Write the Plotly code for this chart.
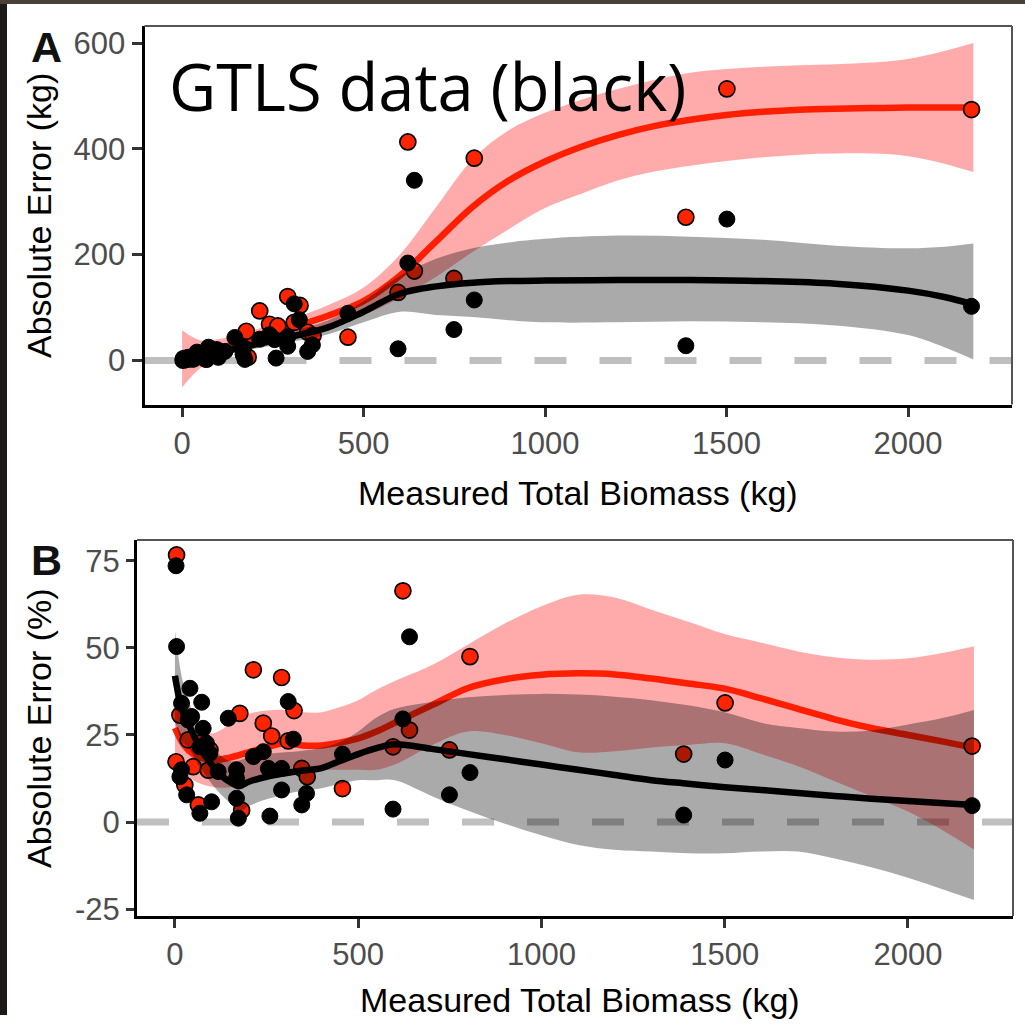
import plotly.graph_objects as go

W, H = 1025, 1026
HE = 1015.0  # effective rendered height used for paper placement

# ---------------- data ----------------
# GTLS (black) points: measured biomass (kg), absolute error (kg), absolute error (%)
gtls_x = [3, 4.5, 13.6, 18, 18, 32, 36, 41, 45.5, 68, 68, 73, 77, 86, 95, 100, 118, 145.5,
          168, 168, 168, 173, 214, 241, 255, 259, 291, 291, 309, 323, 346, 359, 457,
          595, 622, 640, 749, 805, 1388, 1501, 2175]
gtls_err_kg = [2.2, 2.3, 1.8, 6.1, 2.7, 2.5, 10.5, 15.7, 13.8, 14.7, 1.7, 25.1, 20.7, 19.4, 18.7,
               5.8, 17.1, 43.4, 25.2, 21.2, 11.4, 1.9, 40.2, 48.7, 39.3, 4.4, 44.8, 26.8, 106.9,
               76.9, 17.0, 29.4, 89.1, 22.0, 184.1, 340.5, 58.4, 114.3, 27.8, 267.2, 102.2]
gtls_err_pct = [73.6, 50.4, 13.0, 34.1, 15.0, 7.8, 29.3, 38.4, 30.3, 21.6, 2.5, 34.4, 26.9, 22.6,
                19.7, 5.8, 14.5, 29.8, 15.0, 12.6, 6.8, 1.1, 18.8, 20.2, 15.4, 1.7, 15.4, 9.2,
                34.6, 23.8, 4.9, 8.2, 19.5, 3.7, 29.6, 53.2, 7.8, 14.2, 2.0, 17.8, 4.7]

# Other method (red) points
red_x = [3, 4.5, 13.6, 27, 36, 50, 64, 77, 91, 95.5, 177, 182, 214, 241, 264, 291, 309, 325,
         346, 361, 457, 595, 622, 640, 749, 805, 1388, 1501, 2175]
red_err_kg = [0.5, 3.5, 4.2, 2.9, 8.5, 8.0, 3.1, 17.8, 13.6, 19.8, 55.2, 6.2, 93.5, 68.4, 65.2,
              120.8, 72.0, 104.0, 53.3, 46.9, 43.9, 128.5, 413.0, 169.0, 155.0, 382.4, 270.7,
              513.3, 474.2]
red_err_pct = [17.3, 76.7, 30.7, 10.6, 23.6, 15.9, 4.9, 23.1, 14.9, 20.7, 31.2, 3.4, 43.7, 28.4,
               24.7, 41.5, 23.3, 32.0, 15.4, 13.0, 9.6, 21.6, 66.4, 26.4, 20.7, 47.5, 19.5,
               34.2, 21.8]

# Smoothed fits with confidence bands, panel A (kg)
a_red_fx = [0, 50, 100, 200, 300, 400, 500, 600, 700, 800, 900, 1000, 1100, 1200, 1300, 1400,
            1500, 1600, 1700, 1800, 1900, 2000, 2100, 2180]
a_red_fit = [3, 12, 22, 42, 62, 84, 112, 160, 225, 290, 340, 376, 404, 426, 443, 455, 464, 470,
             474, 476, 477, 478, 478, 478]
a_red_hi = [57, 38, 40, 58, 78, 104, 138, 200, 290, 380, 435, 468, 493, 513, 530, 544, 551, 555,
            558, 560, 563, 570, 585, 600]
a_red_lo = [-51, -15, 4, 27, 46, 64, 86, 118, 158, 205, 248, 288, 315, 340, 357, 368, 377, 384,
            389, 391, 391, 386, 372, 356]

a_blk_fx = [0, 50, 100, 200, 300, 400, 500, 600, 700, 800, 900, 1000, 1200, 1400, 1600, 1800,
            2000, 2100, 2180]
a_blk_fit = [3, 8, 15, 30, 45, 62, 92, 126, 140, 147, 150, 151, 152, 152, 150, 145, 132, 120, 106]
a_blk_hi = [15, 15, 22, 38, 55, 75, 112, 160, 192, 212, 223, 230, 236, 234, 228, 217, 212, 215, 221]
a_blk_lo = [-9, 1, 8, 22, 35, 49, 72, 92, 86, 82, 76, 72, 72, 74, 72, 66, 48, 25, 2]

# Smoothed fits with confidence bands, panel B (%)
b_red_fx = [0, 25, 50, 100, 150, 200, 250, 300, 350, 400, 450, 500, 550, 600, 700, 800, 900,
            1000, 1100, 1200, 1300, 1400, 1500, 1600, 1700, 1800, 1900, 2000, 2100, 2180]
b_red_fit = [27, 22, 19.5, 17.8, 18.5, 20, 21.5, 22.6, 22, 22, 22.8, 24, 26, 28.5, 33.5, 38.5,
             41, 42.3, 42.7, 42.4, 41.2, 39.8, 38.3, 35.5, 32.5, 29.5, 27, 25, 23, 21.3]
b_red_hi = [34, 30, 27, 25.4, 28, 31, 32, 32.2, 31.5, 31.5, 33, 35, 38, 40.5, 45, 51, 57, 62,
            65.3, 64.5, 61, 57.5, 54, 51.5, 49, 47.3, 46.6, 47, 48.7, 50.5]
b_red_lo = [18, 14.5, 12, 10.1, 10, 11.5, 14, 14.5, 15, 15, 15, 15, 15, 16.5, 22, 26, 25, 22.6,
            20, 20.3, 21.4, 22.1, 22.6, 19.5, 16, 11.7, 7.4, 3, -2.7, -7.9]

b_blk_fx = [0, 20, 40, 60, 80, 100, 125, 150, 175, 200, 250, 300, 350, 400, 450, 500, 550, 600,
            700, 800, 900, 1000, 1100, 1200, 1300, 1400, 1500, 1600, 1700, 1800, 1900, 2000,
            2100, 2180]
b_blk_fit = [42, 32, 27.5, 23, 19.5, 16.5, 13.5, 11.5, 10.3, 11.5, 13, 14, 14.8, 15.5, 17.5,
             19.5, 21.2, 22.3, 21, 19.5, 18, 16.5, 15, 13.5, 12, 11, 10, 9.2, 8.3, 7.5, 6.7, 6,
             5.4, 4.9]
b_blk_hi = [55, 41, 34, 29, 25, 22, 19, 17.5, 17.7, 18.5, 19.5, 20, 20.5, 21.3, 23, 26, 30, 32.5,
            34.5, 35.8, 36.5, 36.8, 36.6, 36, 35, 33.5, 31.5, 28.5, 27, 26, 26.3, 28, 30, 32.2]
b_blk_lo = [29, 23, 21, 17, 14, 11, 8, 5.5, 2.8, 4.5, 6.5, 8, 9, 9.7, 11, 12, 12, 12, 7.5, 3.2,
            -0.5, -3.8, -6.6, -8, -8.5, -9, -9, -8.5, -8.5, -10.5, -13, -16, -19.5, -22.4]

x_ticks = [0, 500, 1000, 1500, 2000]
a_y_ticks = [0, 200, 400, 600]
b_y_ticks = [-25, 0, 25, 50, 75]
b_y_ticktext = ["-25", "0", "25", "50", "75"]
x_range = [-103.5, 2286.5]

# ---------------- styles ----------------
RED = "#ff2400"
RED_LINE = "#ff1e00"
RED_BAND = "rgba(255,0,0,0.33)"
GREY_BAND = "rgba(0,0,0,0.333)"
FONT = "Liberation Sans, Arial, Helvetica, sans-serif"


def fy(p):
    return 1 - p / HE


def fx(p):
    return p / W


fig = go.Figure()


def add_panel(xa, ya, rfx, rfit, rhi, rlo, bfx, bfit, bhi, blo, rx, ry, bx, by):
    fig.add_trace(go.Scatter(x=x_range, y=[0, 0], mode="lines", xaxis=xa, yaxis=ya,
                             line=dict(color="#bfbfbf", width=7, dash="32px,33px"),
                             hoverinfo="skip", showlegend=False))
    # red layer
    fig.add_trace(go.Scatter(x=rfx, y=rlo, mode="lines", xaxis=xa, yaxis=ya,
                             line=dict(width=0, shape="spline"), hoverinfo="skip", showlegend=False))
    fig.add_trace(go.Scatter(x=rfx, y=rhi, mode="lines", xaxis=xa, yaxis=ya, fill="tonexty",
                             fillcolor=RED_BAND, line=dict(width=0, shape="spline"),
                             hoverinfo="skip", showlegend=False))
    fig.add_trace(go.Scatter(x=rfx, y=rfit, mode="lines", xaxis=xa, yaxis=ya,
                             line=dict(color=RED_LINE, width=6.5, shape="spline"), showlegend=False))
    fig.add_trace(go.Scatter(x=rx, y=ry, mode="markers", xaxis=xa, yaxis=ya,
                             marker=dict(size=16, color=RED, line=dict(color="black", width=1.7)),
                             showlegend=False))
    # black layer
    fig.add_trace(go.Scatter(x=bfx, y=blo, mode="lines", xaxis=xa, yaxis=ya,
                             line=dict(width=0, shape="spline"), hoverinfo="skip", showlegend=False))
    fig.add_trace(go.Scatter(x=bfx, y=bhi, mode="lines", xaxis=xa, yaxis=ya, fill="tonexty",
                             fillcolor=GREY_BAND, line=dict(width=0, shape="spline"),
                             hoverinfo="skip", showlegend=False))
    fig.add_trace(go.Scatter(x=bfx, y=bfit, mode="lines", xaxis=xa, yaxis=ya,
                             line=dict(color="black", width=6.5, shape="spline"), showlegend=False))
    fig.add_trace(go.Scatter(x=bx, y=by, mode="markers", xaxis=xa, yaxis=ya,
                             marker=dict(size=16, color="black", line=dict(color="black", width=1)),
                             showlegend=False))


add_panel("x", "y", a_red_fx, a_red_fit, a_red_hi, a_red_lo, a_blk_fx, a_blk_fit, a_blk_hi,
          a_blk_lo, red_x, red_err_kg, gtls_x, gtls_err_kg)
add_panel("x2", "y2", b_red_fx, b_red_fit, b_red_hi, b_red_lo, b_blk_fx, b_blk_fit, b_blk_hi,
          b_blk_lo, red_x, red_err_pct, gtls_x, gtls_err_pct)

tickfont = dict(family=FONT, size=31, color="#4d4d4d")
common_x = dict(range=x_range, tickvals=x_ticks, ticks="outside", ticklen=9, tickwidth=2.5,
                tickcolor="#333333", showline=True, linecolor="black", linewidth=3,
                showgrid=False, zeroline=False, tickfont=tickfont)
common_y = dict(ticks="outside", tickwidth=2.5, tickcolor="#333333", showline=True,
                linecolor="black", linewidth=3, showgrid=False, zeroline=False, tickfont=tickfont)

fig.update_layout(
    width=W, height=H, margin=dict(l=0, r=0, t=0, b=0),
    paper_bgcolor="white", plot_bgcolor="white", showlegend=False,
    xaxis=dict(domain=[fx(144.5), fx(1012)], anchor="y", **common_x),
    yaxis=dict(domain=[fy(404.5), fy(26)], anchor="x", range=[-83.3, 632.2],
               tickvals=a_y_ticks, ticklen=10, **common_y),
    xaxis2=dict(domain=[fx(137), fx(1013)], anchor="y2", **common_x),
    yaxis2=dict(domain=[fy(916), fy(540)], anchor="x2", range=[-27, 81],
                tickvals=b_y_ticks, ticktext=b_y_ticktext, ticklen=8, **common_y),
)

shapes = []
for xr, yr in (("x", "y"), ("x2", "y2")):
    shapes.append(dict(type="line", xref=xr + " domain", yref=yr + " domain", x0=0, x1=1, y0=1, y1=1,
                       line=dict(color="#555555", width=2)))
    shapes.append(dict(type="line", xref=xr + " domain", yref=yr + " domain", x0=1, x1=1, y0=0, y1=1,
                       line=dict(color="#555555", width=2)))
# dark edges of the photographed slide
shapes.append(dict(type="rect", xref="paper", yref="paper", x0=0, x1=fx(7), y0=0, y1=1,
                   fillcolor="#1d1915", line=dict(width=0), layer="above"))
shapes.append(dict(type="rect", xref="paper", yref="paper", x0=0, x1=1, y0=fy(4), y1=1,
                   fillcolor="#4a4038", line=dict(width=0), layer="above"))
fig.update_layout(shapes=shapes)

ann = []
title_font = dict(family=FONT, size=34, color="black")
ann.append(dict(text="Measured Total Biomass (kg)", xref="paper", yref="paper", x=fx(578),
                y=fy(493), showarrow=False, font=title_font, xanchor="center", yanchor="middle"))
ann.append(dict(text="Measured Total Biomass (kg)", xref="paper", yref="paper", x=fx(580),
                y=fy(1000), showarrow=False, font=title_font, xanchor="center", yanchor="middle"))
ann.append(dict(text="Absolute Error (kg)", xref="paper", yref="paper", x=fx(39), y=fy(216),
                showarrow=False, font=title_font, textangle=-90, xanchor="center", yanchor="middle"))
ann.append(dict(text="Absolute Error (%)", xref="paper", yref="paper", x=fx(39), y=fy(728),
                showarrow=False, font=title_font, textangle=-90, xanchor="center", yanchor="middle"))
ann.append(dict(text="<b>A</b>", xref="paper", yref="paper", x=fx(46), y=fy(47), showarrow=False,
                font=dict(family=FONT, size=43, color="#111111"), xanchor="center", yanchor="middle"))
ann.append(dict(text="<b>B</b>", xref="paper", yref="paper", x=fx(46), y=fy(560), showarrow=False,
                font=dict(family=FONT, size=43, color="#111111"), xanchor="center", yanchor="middle"))
ann.append(dict(text="GTLS data (black)", xref="paper", yref="paper", x=fx(167), y=fy(86),
                showarrow=False, font=dict(family="Open Sans, Noto Sans, sans-serif", size=65,
                                           color="black"),
                xanchor="left", yanchor="middle"))
fig.update_layout(annotations=ann)

fig.write_html("out.html")
